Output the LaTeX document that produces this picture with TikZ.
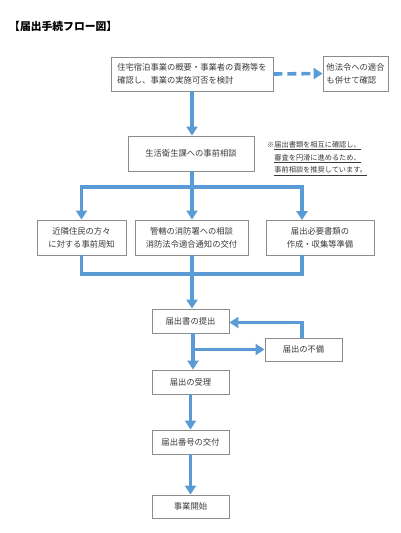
\documentclass[tikz,border=0pt]{standalone}
\usepackage{fontspec}
\usetikzlibrary{arrows.meta}
\newfontfamily\cjk{Noto Sans CJK JP}
\definecolor{flowblue}{HTML}{5B9BD5}
\definecolor{boxgray}{HTML}{8C8C8C}
\definecolor{txtgray}{HTML}{3A3A3A}
\tikzset{
  box/.style={draw=boxgray, line width=0.9pt, fill=white, inner sep=0pt,
    font=\cjk\fontsize{8.3}{13}\selectfont, text=txtgray, align=center},
  conn/.style={draw=flowblue, line width=3.6pt},
  arr/.style={conn, -{Triangle[width=11pt,length=9pt]}},
  dasharr/.style={arr, dash pattern=on 9pt off 5pt},
}
\begin{document}
\begin{tikzpicture}[x=1pt,y=-1pt]
\useasboundingbox (0,0) rectangle (400,533);
\fill[white] (0,0) rectangle (400,533);

\node[font=\cjk\bfseries\fontsize{10.8}{12}\selectfont, anchor=west, inner sep=0pt] (title) at (9,26) {【届出手続フロー図】};

\node[box, minimum width=162pt, minimum height=34pt, align=left] (b1) at (192,74)
  {住宅宿泊事業の概要・事業者の責務等を\\確認し、事業の実施可否を検討};
\node[box, minimum width=65pt, minimum height=35pt, align=left] (b2) at (355.5,73.5)
  {他法令への適合\\も併せて確認};
\node[box, minimum width=126pt, minimum height=35pt] (b3) at (191,153.5)
  {生活衛生課への事前相談};
\node[font=\cjk\fontsize{7.2}{12.8}\selectfont, text=txtgray, anchor=north west, align=left, inner sep=0pt] (note) at (267,141)
  {※\underline{届出書類を相互に確認し、}\\\hspace*{7.2pt}\underline{審査を円滑に進めるため、}\\\hspace*{7.2pt}\underline{事前相談を推奨しています。}};

\node[box, minimum width=89pt, minimum height=35pt] (b4) at (81.5,237.5)
  {近隣住民の方々\\に対する事前周知};
\node[box, minimum width=113pt, minimum height=35pt] (b5) at (191.5,237.5)
  {管轄の消防署への相談\\消防法令適合通知の交付};
\node[box, minimum width=108pt, minimum height=35pt] (b6) at (320,237.5)
  {届出必要書類の\\作成・収集等準備};

\node[box, minimum width=77pt, minimum height=24pt] (b7) at (190.5,321) {届出書の提出};
\node[box, minimum width=77pt, minimum height=23pt] (b8) at (303.5,349.5) {届出の不備};
\node[box, minimum width=77pt, minimum height=24pt] (b9) at (190.5,382) {届出の受理};
\node[box, minimum width=77pt, minimum height=24pt] (b10) at (190.5,442) {届出番号の交付};
\node[box, minimum width=77pt, minimum height=23pt] (b11) at (190.5,506.5) {事業開始};

% connectors
\coordinate (sp) at (192,187);
\coordinate (r6t) at (302,220);
\coordinate (r6b) at (302,255);
\coordinate (mg) at (192,274);
\coordinate (m1) at (192,91);
\coordinate (m3) at (192,171);
\coordinate (m5) at (192,255);
\coordinate (m7) at (193,333);

\draw[dasharr] (b1.east) -- (b2.west);
\draw[arr] (m1) -- (m1 |- b3.north);
\draw[conn] (m3) -- (sp);
\draw[arr] (sp) -| (b4.north);
\draw[arr] (sp) -| (r6t);
\draw[arr] (sp) -- (sp |- b5.north);
\draw[conn] (b4.south) |- (mg);
\draw[conn] (r6b) |- (mg);
\draw[arr] (m5) -- (m5 |- b7.north);
\draw[arr] (m7) -- (m7 |- b9.north);
\draw[arr] (m7 |- b8.west) -- (b8.west);
\draw[arr] ([xshift=-1.5pt]b8.north) |- ([yshift=-1.5pt]b7.east);
\draw[arr] (b9.south) -- (b10.north);
\draw[arr] (b10.south) -- (b11.north);
\end{tikzpicture}
\end{document}
